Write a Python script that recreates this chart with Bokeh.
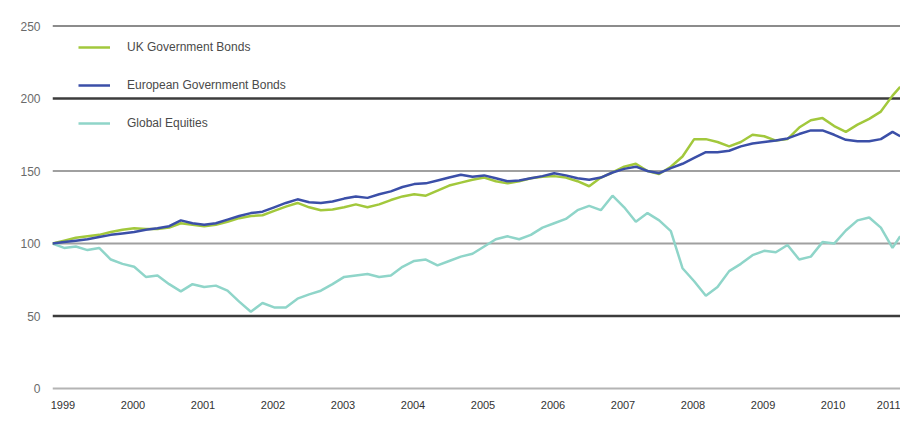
from bokeh.plotting import figure
from bokeh.models import Range1d, FixedTicker, Span, Legend, LegendItem, ColumnDataSource
from bokeh.embed import file_html
from bokeh.resources import INLINE

# ---- data (every two months) ----
t = [1999 + i / 6 for i in range(73)] + [2011.11]

uk_bonds = [100, 102, 104, 105, 106, 108, 109.5, 110.5, 110, 110, 111, 114,
            113, 112, 113, 115, 117.5, 119, 119.5, 122.5, 125.5, 128, 125, 123,
            123.5, 125, 127, 125, 127, 130, 132.5, 134, 133, 136.5, 140, 142,
            144, 145.5, 143, 141.5, 143, 145, 146, 146.5, 145.5, 143, 139.5, 145.5,
            149, 153, 155, 150, 148, 153, 160, 172, 172, 170, 167, 170,
            175, 174, 171, 172, 180, 185, 186.5, 181, 177, 182, 186, 191,
            202, 208]

eu_bonds = [100, 101, 102, 103, 104.5, 106, 107, 108, 109.5, 110.5, 112, 116,
            114, 113, 114, 116.5, 119, 121, 122, 125, 128, 130.5, 128.5, 128,
            129, 131, 132.5, 131.5, 134, 136, 139, 141, 141.5, 143.5, 145.5, 147.5,
            146, 147, 145, 143, 143.5, 145, 146.5, 148.5, 147, 145, 144, 145.5,
            149, 151.5, 153, 150, 148.5, 152, 155, 159, 163, 163, 164, 167,
            169, 170, 171, 172.5, 175.5, 178, 178, 175, 171.5, 170.5, 170.5, 172,
            177, 174]

equities = [100, 97, 98, 95.5, 97, 89, 86, 84, 77, 78, 72, 67,
            72, 70, 71, 67.5, 60, 53, 59, 56, 56, 62, 65, 67.5,
            72, 77, 78, 79, 77, 78, 84, 88, 89, 85, 88, 91,
            93, 98, 103, 105, 103, 106, 111, 114, 117, 123, 126, 123,
            133, 125, 115, 121, 116, 108.6, 83, 74, 64, 70, 81, 86,
            92, 95, 94, 99, 89, 91, 101, 100, 109, 116, 118, 111,
            97, 105]

series_names = ["UK Government Bonds", "European Government Bonds", "Global Equities"]
series_colors = ["#a2c83c", "#3b4fa8", "#8fd5c9"]

year_labels = [str(y) for y in range(1999, 2012)]
year_ticks = [y + 0.15 for y in range(1999, 2011)] + [2011.0]

grid_values = [0, 50, 100, 150, 200, 250]
grid_colors = ["#b4b4b4", "#3c3c3c", "#a0a0a0", "#a0a0a0", "#3c3c3c", "#8c8c8c"]
grid_widths = [2, 2.5, 2, 2, 2.5, 2]

# ---- figure ----
p = figure(width=900, height=424, output_backend="svg", toolbar_location=None,
           x_range=Range1d(1999.0, 2011.114), y_range=Range1d(-2, 260),
           min_border_left=52, min_border_right=0, min_border_top=11, min_border_bottom=33)
p.outline_line_color = None
p.xgrid.visible = False
p.ygrid.visible = False

for v, c, w in zip(grid_values, grid_colors, grid_widths):
    p.add_layout(Span(location=v, dimension="width", line_color=c, line_width=w, level="underlay"))

src = ColumnDataSource(dict(t=t, uk=uk_bonds, eu=eu_bonds, eq=equities))
r_eq = p.line("t", "eq", source=src, line_color=series_colors[2], line_width=2.5)
r_uk = p.line("t", "uk", source=src, line_color=series_colors[0], line_width=2.5)
r_eu = p.line("t", "eu", source=src, line_color=series_colors[1], line_width=2.5)

# axes
p.yaxis.ticker = FixedTicker(ticks=grid_values)
p.yaxis.axis_line_color = None
p.yaxis.major_tick_line_color = None
p.yaxis.minor_tick_line_color = None
p.yaxis.major_label_standoff = 6
p.yaxis.major_label_text_font = "Liberation Sans"
p.yaxis.major_label_text_font_size = "12px"
p.yaxis.major_label_text_color = "#6a6a6a"

p.xaxis.ticker = FixedTicker(ticks=year_ticks)
p.xaxis.major_label_overrides = {tk: lb for tk, lb in zip(year_ticks, year_labels)}
p.xaxis.axis_line_color = None
p.xaxis.major_tick_line_color = None
p.xaxis.minor_tick_line_color = None
p.xaxis.major_label_standoff = 3
p.xaxis.major_label_text_font = "Liberation Sans"
p.xaxis.major_label_text_font_size = "11px"
p.xaxis.major_label_text_color = "#333333"

legend = Legend(items=[LegendItem(label=series_names[0], renderers=[r_uk]),
                       LegendItem(label=series_names[1], renderers=[r_eu]),
                       LegendItem(label=series_names[2], renderers=[r_eq])],
                location="top_left", margin=26, padding=0, spacing=18,
                label_height=20, glyph_height=20, glyph_width=32, label_standoff=17,
                background_fill_alpha=0, border_line_color=None,
                label_text_font="Liberation Sans", label_text_font_size="12px",
                label_text_color="#4a4a4a")
p.add_layout(legend)

open("out.html", "w").write(file_html(p, INLINE))
